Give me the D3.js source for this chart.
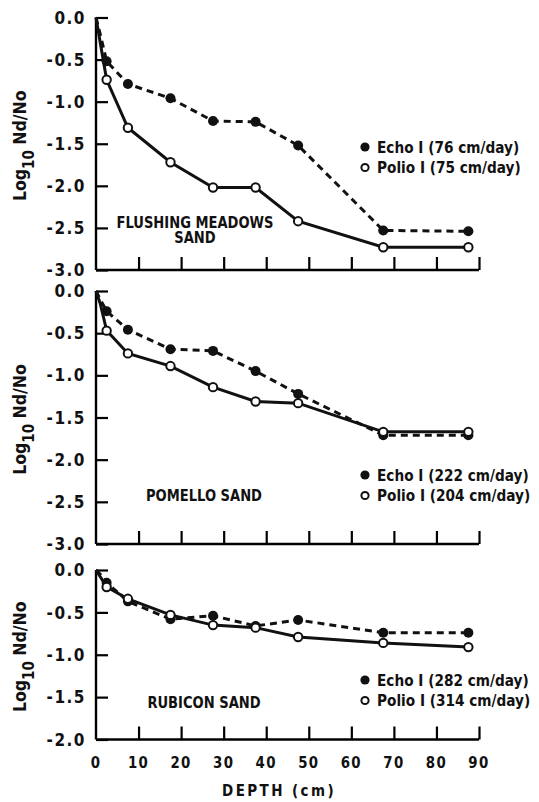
<!DOCTYPE html>
<html lang="en">
<head>
<meta charset="UTF-8">
<title>Virus removal with depth</title>
<style>
  body { margin: 0; background: #fff; }
  text { font-family: 'DejaVu Sans Condensed', 'DejaVu Sans', sans-serif; font-weight: bold; fill: #111; }
</style>
</head>
<body>
<div id="chart"></div>
<script src="https://d3js.org/d3.v7.min.js"></script>
<script>
// data
const DEPTHS = [0, 1, 2.5, 7.5, 17.5, 27.5, 37.5, 47.5, 67.5, 87.5];
const X_TICKS = [0, 10, 20, 30, 40, 50, 60, 70, 80, 90];

const FM_ECHO  = [0, -0.2, -0.52, -0.79, -0.96, -1.23, -1.24, -1.52, -2.53, -2.54];
const FM_POLIO = [0, -0.3, -0.74, -1.31, -1.72, -2.02, -2.02, -2.42, -2.73, -2.73];
const PO_ECHO  = [0, -0.1, -0.24, -0.46, -0.69, -0.71, -0.95, -1.22, -1.71, -1.71];
const PO_POLIO = [0, -0.15, -0.47, -0.74, -0.89, -1.14, -1.31, -1.33, -1.67, -1.67];
const RU_ECHO  = [0, -0.05, -0.15, -0.37, -0.58, -0.54, -0.66, -0.59, -0.74, -0.74];
const RU_POLIO = [0, -0.08, -0.20, -0.34, -0.53, -0.65, -0.68, -0.79, -0.86, -0.91];

const FM_LEGEND = ["Echo I (76 cm/day)", "Polio I (75 cm/day)"];
const PO_LEGEND = ["Echo I (222 cm/day)", "Polio I (204 cm/day)"];
const RU_LEGEND = ["Echo I (282 cm/day)", "Polio I (314 cm/day)"];

const W = 539, H = 802;
const X0 = 96, X1 = 479;

// panel layout (pixels)
const panels = [
  { top: 17.5, bottom: 270, yMin: -3, echo: FM_ECHO, polio: FM_POLIO, legend: FM_LEGEND,
    legendY: 147, name: ["FLUSHING MEADOWS", "SAND"], nameX: 195, nameY: 222 },
  { top: 291, bottom: 544, yMin: -3, echo: PO_ECHO, polio: PO_POLIO, legend: PO_LEGEND,
    legendY: 475, name: ["POMELLO SAND"], nameX: 204, nameY: 495 },
  { top: 570, bottom: 739.5, yMin: -2, echo: RU_ECHO, polio: RU_POLIO, legend: RU_LEGEND,
    legendY: 680, name: ["RUBICON SAND"], nameX: 204, nameY: 702 }
];

const svg = d3.select("#chart").append("svg")
  .attr("width", W).attr("height", H);

// text squeezed a little sideways: the original type is tall and narrow
function label(sel, px, py, size, sx, anchor) {
  return sel.append("text")
    .attr("transform", `translate(${px},${py}) scale(${sx},1)`)
    .attr("dy", "0.36em").attr("font-size", size)
    .attr("text-anchor", anchor || "start");
}

const x = d3.scaleLinear().domain([0, 90]).range([X0, X1]);

panels.forEach(p => {
  const y = d3.scaleLinear().domain([p.yMin, 0]).range([p.bottom, p.top]);
  const g = svg.append("g");
  const yTicks = d3.range(0, p.yMin - 0.001, -0.5);

  // left axis, ticks pointing inward
  const yAxis = g.append("g")
    .attr("transform", `translate(${X0},0)`)
    .call(d3.axisRight(y).tickValues(yTicks).tickSize(12).tickFormat(""));
  yAxis.select(".domain").attr("stroke-width", 2.4).attr("d", `M0,${p.top}V${p.bottom}`);
  yAxis.selectAll(".tick line").attr("stroke-width", 2.2);

  yTicks.forEach(v => {
    label(g, 86, y(v), 17, 1, "end").attr("letter-spacing", 1.5)
      .text(d3.format(".1f")(v).replace("−", "-"));
  });

  // bottom axis, ticks pointing up
  const xAxis = g.append("g")
    .attr("transform", `translate(0,${p.bottom})`)
    .call(d3.axisTop(x).tickValues(X_TICKS.slice(1)).tickSize(13).tickFormat(""));
  xAxis.select(".domain").attr("stroke-width", 2.4).attr("d", `M${X0},0H${X1}`);
  xAxis.selectAll(".tick line").attr("stroke-width", 2.2);

  // y label
  const lab = g.append("text")
    .attr("transform", `translate(26,${(p.top + p.bottom) / 2 + 2}) rotate(-90)`)
    .attr("text-anchor", "middle").attr("font-size", 17.5);
  lab.append("tspan").text("Log");
  lab.append("tspan").attr("dy", 8).attr("font-size", 15).text("10");
  lab.append("tspan").attr("dy", -8).text(" Nd/No");

  // lines
  const line = d3.line().x((d, k) => x(DEPTHS[k])).y(d => y(d));
  g.append("path").datum(p.echo).attr("d", line)
    .attr("fill", "none").attr("stroke", "#111").attr("stroke-width", 3)
    .attr("stroke-dasharray", "7,5");
  g.append("path").datum(p.polio).attr("d", line)
    .attr("fill", "none").attr("stroke", "#111").attr("stroke-width", 3);

  // markers (skip the points at the surface)
  g.selectAll(".echo").data(p.echo.slice(2)).join("circle")
    .attr("cx", (d, k) => x(DEPTHS[k + 2])).attr("cy", d => y(d))
    .attr("r", 5).attr("fill", "#111");
  g.selectAll(".polio").data(p.polio.slice(2)).join("circle")
    .attr("cx", (d, k) => x(DEPTHS[k + 2])).attr("cy", d => y(d))
    .attr("r", 4.2).attr("fill", "#fff").attr("stroke", "#111").attr("stroke-width", 2);

  // legend
  p.legend.forEach((t, k) => {
    const ly = p.legendY + k * 20.5;
    g.append("circle").attr("cx", 365).attr("cy", ly).attr("r", k ? 3.6 : 4.6)
      .attr("fill", k ? "#fff" : "#111").attr("stroke", "#111").attr("stroke-width", k ? 2 : 0);
    label(g, 377, ly, 16, 0.95).text(t);
  });

  // panel name
  p.name.forEach((t, k) => {
    label(g, p.nameX, p.nameY + k * 15.5, 15.5, 0.94, "middle").text(t);
  });
});

// x tick labels and title under last panel
X_TICKS.forEach(d => {
  label(svg, x(d), 762, 16.5, 0.9, "middle").attr("letter-spacing", 1.5).text(d);
});

label(svg, 279, 791, 15, 1, "middle").attr("letter-spacing", 2.4).text("DEPTH (cm)");
</script>
</body>
</html>
